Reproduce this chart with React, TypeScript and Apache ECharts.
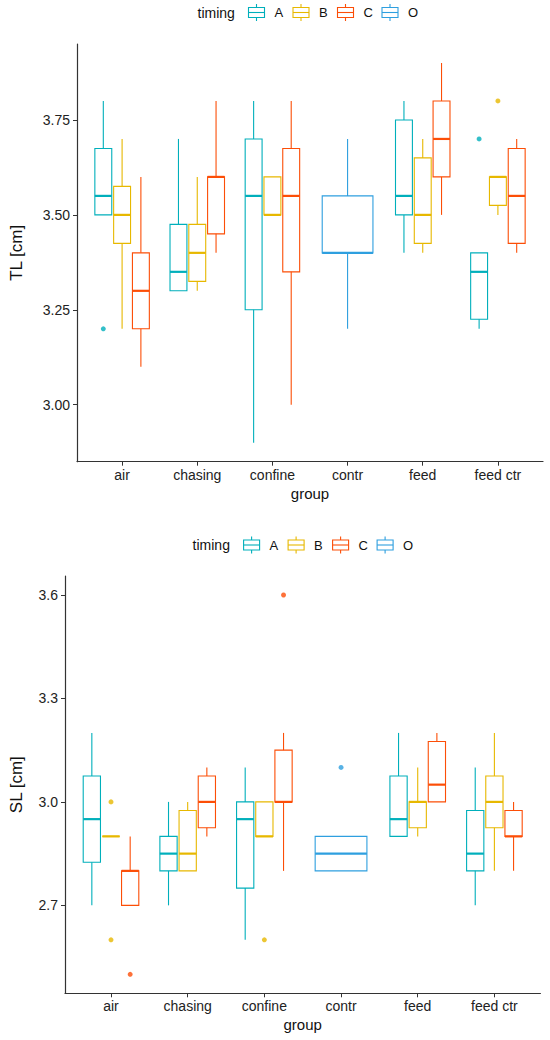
import React from 'react';
import * as echarts from 'echarts';

const GROUPS = ['air', 'chasing', 'confine', 'contr', 'feed', 'feed ctr'];
const TIMINGS = ['A', 'B', 'C', 'O'];
const COLORS = ['#00AFBB', '#E7B800', '#FC4E07', '#2E9FDF'];

// box stats per group: [lower whisker, q1, median, q3, upper whisker]
const TL_A = [[3.5, 3.5, 3.55, 3.675, 3.8], [3.3, 3.3, 3.35, 3.475, 3.7], [2.9, 3.25, 3.55, 3.7, 3.8], null, [3.4, 3.5, 3.55, 3.75, 3.8], [3.2, 3.225, 3.35, 3.4, 3.4]];
const TL_B = [[3.2, 3.425, 3.5, 3.575, 3.7], [3.3, 3.325, 3.4, 3.475, 3.6], [3.5, 3.5, 3.5, 3.6, 3.6], null, [3.4, 3.425, 3.5, 3.65, 3.7], [3.5, 3.525, 3.6, 3.6, 3.6]];
const TL_C = [[3.1, 3.2, 3.3, 3.4, 3.6], [3.4, 3.45, 3.6, 3.6, 3.8], [3.0, 3.35, 3.55, 3.675, 3.8], null, [3.5, 3.6, 3.7, 3.8, 3.9], [3.4, 3.425, 3.55, 3.675, 3.7]];
const TL_O = [null, null, null, [3.2, 3.4, 3.4, 3.55, 3.7], null, null];
// outliers: [group index, value]
const TL_OUT_A = [[0, 3.2], [5, 3.7]];
const TL_OUT_B = [[5, 3.8]];
const TL_OUT_C: number[][] = [];
const TL_OUT_O: number[][] = [];

const SL_A = [[2.7, 2.825, 2.95, 3.075, 3.2], [2.7, 2.8, 2.85, 2.9, 3.0], [2.6, 2.75, 2.95, 3.0, 3.1], null, [2.9, 2.9, 2.95, 3.075, 3.2], [2.7, 2.8, 2.85, 2.975, 3.1]];
const SL_B = [[2.9, 2.9, 2.9, 2.9, 2.9], [2.8, 2.8, 2.85, 2.975, 3.0], [2.9, 2.9, 2.9, 3.0, 3.0], null, [2.9, 2.925, 3.0, 3.0, 3.1], [2.8, 2.925, 3.0, 3.075, 3.2]];
const SL_C = [[2.7, 2.7, 2.8, 2.8, 2.9], [2.9, 2.925, 3.0, 3.075, 3.1], [2.8, 3.0, 3.0, 3.15, 3.2], null, [3.0, 3.0, 3.05, 3.175, 3.2], [2.8, 2.9, 2.9, 2.975, 3.0]];
const SL_O = [null, null, null, [2.8, 2.8, 2.85, 2.9, 2.9], null, null];
const SL_OUT_A: number[][] = [];
const SL_OUT_B = [[0, 3.0], [0, 2.6], [2, 2.6]];
const SL_OUT_C = [[0, 2.5], [2, 3.6]];
const SL_OUT_O = [[3, 3.1]];

const TL_TICKS = [3.0, 3.25, 3.5, 3.75];
const SL_TICKS = [2.7, 3.0, 3.3, 3.6];

const FONT = 'Liberation Sans, Arial, sans-serif';

type Stats = (number[] | null)[];

function dodge(panel: Stats[], t: number, g: number) {
  const present = panel.map((s, i) => (s[g] ? i : -1)).filter(i => i >= 0);
  const n = present.length;
  const k = present.indexOf(t);
  const slot = 0.75 / n;
  return { x: g + 1 + (k - (n - 1) / 2) * slot, w: slot * 0.9 };
}

function boxSeries(panel: Stats[], outs: number[][][], axis: number) {
  const series: any[] = [];
  panel.forEach((stats, t) => {
    const color = COLORS[t];
    const data: number[][] = [];
    stats.forEach((s, g) => {
      if (!s) return;
      const d = dodge(panel, t, g);
      data.push([d.x, ...s, d.w]);
    });
    series.push({
      type: 'custom',
      name: TIMINGS[t],
      xAxisIndex: axis,
      yAxisIndex: axis,
      encode: { x: 0, y: [1, 2, 3, 4, 5] },
      data,
      renderItem: (_p: any, api: any) => {
        const x = api.value(0);
        const lo = api.coord([x, api.value(1)]);
        const q1 = api.coord([x, api.value(2)]);
        const med = api.coord([x, api.value(3)]);
        const q3 = api.coord([x, api.value(4)]);
        const hi = api.coord([x, api.value(5)]);
        const half = api.size([api.value(6), 0])[0] / 2;
        const cx = lo[0];
        const ls = { stroke: color, lineWidth: 1.1 };
        return {
          type: 'group',
          children: [
            { type: 'line', shape: { x1: cx, y1: hi[1], x2: cx, y2: q3[1] }, style: ls },
            { type: 'line', shape: { x1: cx, y1: q1[1], x2: cx, y2: lo[1] }, style: ls },
            { type: 'rect', shape: { x: cx - half, y: q3[1], width: half * 2, height: q1[1] - q3[1] }, style: { ...ls, fill: 'none' } },
            { type: 'line', shape: { x1: cx - half, y1: med[1], x2: cx + half, y2: med[1] }, style: { stroke: color, lineWidth: 2.2 } },
          ],
        };
      },
    });
    series.push({
      type: 'scatter',
      xAxisIndex: axis,
      yAxisIndex: axis,
      symbol: 'circle',
      symbolSize: 5,
      itemStyle: { color },
      data: outs[t].map(([g, v]) => [dodge(panel, t, g).x, v]),
    });
  });
  return series;
}

function legendEls(x0: number, cy: number) {
  const els: any[] = [
    { type: 'text', x: x0, y: cy, style: { text: 'timing', fontSize: 14, fontFamily: FONT, fill: '#111', verticalAlign: 'middle' } },
  ];
  TIMINGS.forEach((t, i) => {
    const kx = x0 + 51 + i * 44.5;
    const st = { stroke: COLORS[i], lineWidth: 1.1, fill: 'none' };
    els.push(
      { type: 'rect', shape: { x: kx, y: cy - 5, width: 16, height: 10 }, style: st },
      { type: 'line', shape: { x1: kx, y1: cy, x2: kx + 16, y2: cy }, style: st },
      { type: 'line', shape: { x1: kx + 8, y1: cy - 8.5, x2: kx + 8, y2: cy - 5 }, style: st },
      { type: 'line', shape: { x1: kx + 8, y1: cy + 5, x2: kx + 8, y2: cy + 8.5 }, style: st },
      { type: 'text', x: kx + 26, y: cy, style: { text: t, fontSize: 13, fontFamily: FONT, fill: '#111', verticalAlign: 'middle' } },
    );
  });
  return els;
}

function xAxis(grid: number) {
  return {
    type: 'value',
    gridIndex: grid,
    min: 0.4,
    max: 6.6,
    name: 'group',
    nameLocation: 'middle',
    nameGap: 24,
    nameTextStyle: { fontSize: 15, fontFamily: FONT, color: '#111' },
    axisLine: { show: true, onZero: false, lineStyle: { color: '#333', width: 1.2 } },
    axisTick: { show: true, length: 4, customValues: [1, 2, 3, 4, 5, 6], lineStyle: { color: '#333' } },
    axisLabel: {
      customValues: [1, 2, 3, 4, 5, 6],
      formatter: (v: number) => GROUPS[Math.round(v) - 1],
      fontSize: 14,
      fontFamily: FONT,
      color: '#222',
      margin: 6,
    },
    splitLine: { show: false },
  };
}

function yAxis(grid: number, name: string, min: number, max: number, ticks: number[], digits: number, gap: number) {
  return {
    type: 'value',
    gridIndex: grid,
    min,
    max,
    name,
    nameLocation: 'middle',
    nameGap: gap,
    nameTextStyle: { fontSize: 17, fontFamily: FONT, color: '#111' },
    axisLine: { show: true, lineStyle: { color: '#333', width: 1.2 } },
    axisTick: { show: true, length: 4, customValues: ticks, lineStyle: { color: '#333' } },
    axisLabel: {
      customValues: ticks,
      formatter: (v: number) => v.toFixed(digits),
      fontSize: 14,
      fontFamily: FONT,
      color: '#222',
      margin: 7,
    },
    splitLine: { show: false },
  };
}

const App: React.FC = () => {
  const chartRef = React.useRef<HTMLDivElement>(null);

  React.useEffect(() => {
    document.body.style.margin = '0';
    if (!chartRef.current) return;
    const chart = echarts.init(chartRef.current, null, { renderer: 'svg' });
    const option = {
      animation: false,
      backgroundColor: '#fff',
      grid: [
        { left: 72.3, right: 7, top: 44, bottom: 578.3 },
        { left: 63.7, right: 9.6, top: 576, bottom: 46.7 },
      ],
      xAxis: [xAxis(0), xAxis(1)],
      yAxis: [
        yAxis(0, 'TL [cm]', 2.85, 3.95, TL_TICKS, 2, 52),
        yAxis(1, 'SL [cm]', 2.445, 3.655, SL_TICKS, 1, 40),
      ],
      graphic: [...legendEls(197.5, 12.5), ...legendEls(192.6, 545)],
      series: [
        ...boxSeries([TL_A, TL_B, TL_C, TL_O], [TL_OUT_A, TL_OUT_B, TL_OUT_C, TL_OUT_O], 0),
        ...boxSeries([SL_A, SL_B, SL_C, SL_O], [SL_OUT_A, SL_OUT_B, SL_OUT_C, SL_OUT_O], 1),
      ],
    };
    chart.setOption(option);
    return () => {
      chart.dispose();
    };
  }, []);

  return <div ref={chartRef} style={{ width: '550px', height: '1040px' }} />;
};

export default App;
